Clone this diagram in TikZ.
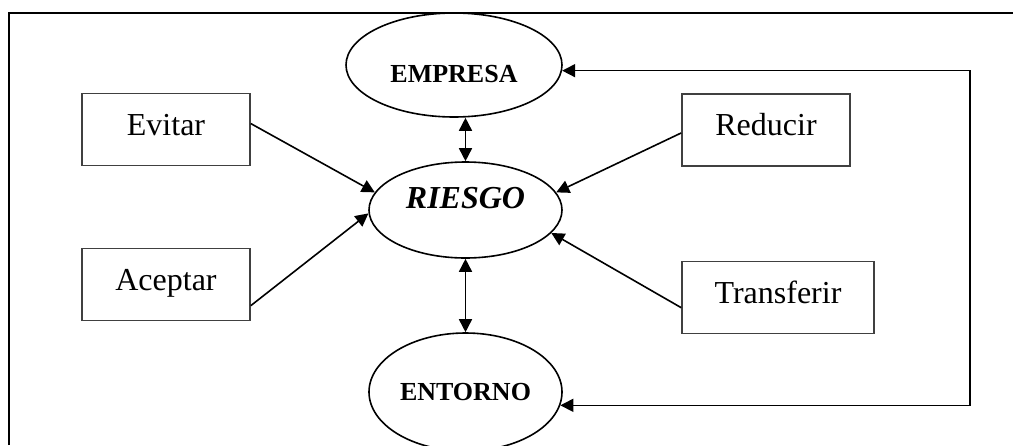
\documentclass[tikz,border=0pt]{standalone}
\usepackage{fontspec}
\setmainfont{Liberation Serif}
\usetikzlibrary{shapes.geometric,arrows.meta}
\tikzset{
 >={Triangle[length=6.5pt,width=6.5pt]},
 caja/.style={draw=black!75,minimum width=84pt,minimum height=36pt,text height=11pt,text depth=5.5pt,font=\fontsize{16}{19}\selectfont},
 elipse/.style={draw,ellipse,inner sep=0pt},
}
\begin{document}
\begin{tikzpicture}[x=.5pt,y=-.5pt,line width=.8pt]
 \clip (0,0) rectangle (1013,445);
 \draw[line width=1pt] (9,445) -- (9,13) -- (1013,13);
 %
 \node[elipse,minimum width=108pt,minimum height=52pt,text height=17.8pt,text depth=0pt,font=\fontsize{13}{15}\selectfont\bfseries] (empresa) at (454,65) {EMPRESA};
 \node[elipse,minimum width=96.5pt,minimum height=48pt,text height=10.8pt,text depth=12pt,font=\fontsize{16}{19}\selectfont\bfseries\itshape] (riesgo) at (465.5,210) {RIESGO};
 \node[elipse,minimum width=96.5pt,minimum height=59pt,font=\fontsize{13}{15}\selectfont\bfseries] (entorno) at (465.5,392) {ENTORNO};
 %
 \node[caja] (evitar) at (166,129.5) {Evitar};
 \node[caja] (aceptar) at (166,284.5) {Aceptar};
 \node[caja] (reducir) at (766,130) {Reducir};
 \node[caja,minimum width=96pt] (transferir) at (778,297.5) {Transferir};
 %
 \draw[->] (evitar.4) -- (riesgo.169);
 \draw[->] (aceptar.-14) -- (riesgo.182);
 \draw[->] (reducir.182) -- (riesgo.11);
 \draw[->] (transferir.186) -- (riesgo.-15);
 %
 \draw[<->] (riesgo.north |- empresa.south) -- (riesgo.north);
 \draw[<->] (riesgo.south) -- (entorno.north);
 %
 \coordinate (retorno) at (970,0);
 \draw[<->] (empresa.-3) -- (empresa.-3 -| retorno) -- (entorno.-8 -| retorno) -- (entorno.-8);
\end{tikzpicture}
\end{document}
